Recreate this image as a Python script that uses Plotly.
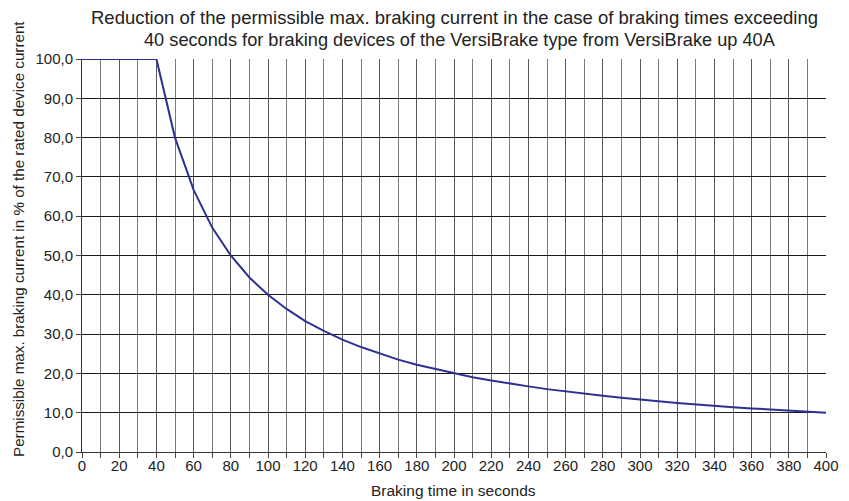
import plotly.graph_objects as go

braking_time_s = [0, 10, 20, 30, 40, 50, 60, 70, 80, 90, 100, 110, 120, 130, 140, 150, 160, 170, 180, 190,
                  200, 210, 220, 230, 240, 250, 260, 270, 280, 290, 300, 310, 320, 330, 340, 350, 360, 370,
                  380, 390, 400]
permissible_current_pct = [100, 100, 100, 100, 100, 80, 66.7, 57.1, 50, 44.4, 40, 36.4, 33.3, 30.8, 28.6,
                           26.7, 25, 23.5, 22.2, 21.1, 20, 19, 18.2, 17.4, 16.7, 16, 15.4, 14.8, 14.3, 13.8,
                           13.3, 12.9, 12.5, 12.1, 11.8, 11.4, 11.1, 10.8, 10.5, 10.3, 10.0]

y_tick_values = [0, 10, 20, 30, 40, 50, 60, 70, 80, 90, 100]
y_tick_labels = ["0,0", "10,0", "20,0", "30,0", "40,0", "50,0", "60,0", "70,0", "80,0", "90,0", "100,0"]

title_line1 = "Reduction of the permissible max. braking current in the case of braking times exceeding"
title_line2 = "40 seconds for braking devices of the VersiBrake type from VersiBrake up 40A"
x_title = "Braking time in seconds"
y_title = "Permissible max. braking current in % of the rated device current"

FONT = "Liberation Sans, Arial, sans-serif"
TXT = "#222"

fig = go.Figure()
fig.add_trace(go.Scatter(
    x=braking_time_s, y=permissible_current_pct, mode="lines",
    line=dict(color="#2E3192", width=2), showlegend=False, hoverinfo="x+y",
))

# page body has an 8px default margin, so the figure is sized/offset to compensate
fig.update_layout(
    width=841, height=493,
    margin=dict(l=74, r=23, t=51, b=49),
    paper_bgcolor="white", plot_bgcolor="white",
    font=dict(family=FONT, size=15, color=TXT),
    annotations=[
        dict(text=title_line1, xref="paper", yref="paper", x=0.5, y=1, yshift=42,
             showarrow=False, xanchor="center", yanchor="middle", font=dict(size=18.5, color=TXT)),
        dict(text=title_line2, xref="paper", yref="paper", x=0.508, y=1, yshift=19,
             showarrow=False, xanchor="center", yanchor="middle", font=dict(size=18.2, color=TXT)),
        dict(text=y_title, xref="paper", yref="paper", x=0, xshift=-63, y=0.542,
             showarrow=False, xanchor="center", yanchor="middle", textangle=-90,
             font=dict(size=15.2, color=TXT)),
        dict(text=x_title, xref="paper", yref="paper", x=0.4987, y=0, yshift=-38,
             showarrow=False, xanchor="center", yanchor="middle", font=dict(size=15.5, color=TXT)),
    ],
)

fig.update_xaxes(
    range=[0, 400], dtick=20, tick0=0, automargin=False,
    showgrid=True, gridcolor="#5a5a5a", gridwidth=1,
    minor=dict(dtick=10, tick0=0, showgrid=True, gridcolor="#7a7a7a", gridwidth=1,
               ticks="outside", ticklen=5, tickcolor="#444"),
    ticks="outside", ticklen=5, tickcolor="#444",
    showline=True, linecolor="#333", linewidth=1, mirror=False,
    zeroline=False, ticklabelstandoff=-5,
    tickfont=dict(size=15),
)
fig.update_yaxes(
    range=[0, 100], tickvals=y_tick_values, ticktext=y_tick_labels, automargin=False,
    showgrid=True, gridcolor="#1a1a1a", gridwidth=1,
    ticks="outside", ticklen=5, tickcolor="#444",
    showline=True, linecolor="#333", linewidth=1,
    zeroline=False,
    tickfont=dict(size=15),
)

fig.write_html("out.html")
